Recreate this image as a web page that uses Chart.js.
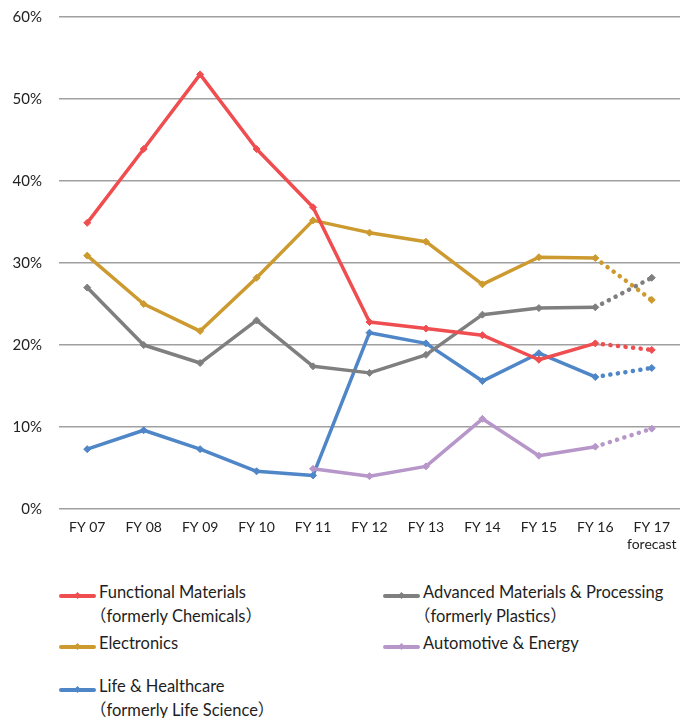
<!DOCTYPE html>
<html>
<head>
<meta charset="utf-8">
<script src="https://cdn.jsdelivr.net/npm/chart.js@4"></script>
<style>
  body { margin: 0; background: #fff; font-family: 'Lato', 'Noto Sans CJK JP', sans-serif; }
  #wrap { position: relative; width: 680px; height: 560px; }
  #legend { position: absolute; left: 0; top: 580px; width: 680px; }
  .item { position: absolute; font-size: 16.5px; color: #1e1e1e; line-height: 24px; }
  .sw { position: absolute; left: 0; top: 14px; width: 37px; height: 4px; border-radius: 2px; }
  .dm { position: absolute; left: 16px; top: -1px; width: 5px; height: 5px; transform: rotate(45deg); }
  .tx { position: absolute; left: 40px; top: 0; white-space: nowrap; }
  .l2 { margin-left: -9px; }
</style>
</head>
<body>
<div id="wrap"><canvas id="data-chart"></canvas></div>
<div id="legend"></div>
<script>
const categories = ['FY 07', 'FY 08', 'FY 09', 'FY 10', 'FY 11', 'FY 12', 'FY 13', 'FY 14', 'FY 15', 'FY 16', ['FY 17', 'forecast']];
const yTicks = [0, 10, 20, 30, 40, 50, 60];

const functionalMaterials = [34.9, 43.9, 53.0, 43.9, 36.8, 22.8, 22.0, 21.2, 18.2, 20.2, 19.4];
const advancedMaterials = [27.0, 20.0, 17.8, 23.0, 17.4, 16.6, 18.8, 23.7, 24.5, 24.6, 28.2];
const electronics = [30.9, 25.0, 21.7, 28.2, 35.2, 33.7, 32.6, 27.4, 30.7, 30.6, 25.5];
const automotiveEnergy = [null, null, null, null, 4.9, 4.0, 5.2, 11.0, 6.5, 7.6, 9.8];
const lifeHealthcare = [7.3, 9.6, 7.3, 4.6, 4.1, 21.5, 20.2, 15.6, 19.0, 16.1, 17.2];

const seriesNames = [
    ['Functional Materials', '（formerly Chemicals）'],
    ['Advanced Materials & Processing', '（formerly Plastics）'],
    ['Electronics'],
    ['Automotive & Energy'],
    ['Life & Healthcare', '（formerly Life Science）']
];
const colors = ['#EF4D4F', '#7F7F7F', '#CC9A2E', '#B796C9', '#4E86C7'];
const seriesData = [functionalMaterials, advancedMaterials, electronics, automotiveEnergy, lifeHealthcare];

const lastIndex = categories.length - 1;

function makeDataset(i) {
    return {
        label: seriesNames[i].join(' '),
        data: seriesData[i],
        borderColor: colors[i],
        backgroundColor: colors[i],
        borderWidth: 3.5,
        borderCapStyle: 'round',
        borderJoinStyle: 'round',
        pointStyle: 'rectRot',
        pointRadius: 3.5,
        pointBorderWidth: 1,
        tension: 0,
        spanGaps: false,
        segment: {
            // forecast year is drawn dotted
            borderDash: ctx => ctx.p1DataIndex === lastIndex ? [0.1, 7.5] : undefined,
            borderWidth: ctx => ctx.p1DataIndex === lastIndex ? 4.5 : undefined
        }
    };
}

const ctx = document.getElementById('data-chart').getContext('2d');
const chart = new Chart(ctx, {
    type: 'line',
    data: {
        labels: categories,
        datasets: seriesData.map((d, i) => makeDataset(i))
    },
    options: {
        responsive: true,
        maintainAspectRatio: false,
        animation: false,
        layout: { autoPadding: false, padding: { top: 17, right: 0, left: 0, bottom: 0 } },
        plugins: {
            legend: { display: false },
            tooltip: { enabled: false }
        },
        scales: {
            x: {
                offset: true,
                grid: { display: false, drawTicks: false },
                border: { display: false },
                ticks: {
                    color: '#222',
                    font: { family: 'Lato', size: 14 },
                    padding: 10,
                    maxRotation: 0,
                    autoSkip: false
                },
                afterFit: scale => {
                    scale.height = 51;
                    scale.paddingLeft = 0;
                    scale.paddingRight = 0;
                }
            },
            y: {
                min: 0,
                max: 60,
                afterBuildTicks: scale => { scale.ticks = yTicks.map(v => ({ value: v })); },
                grid: { color: '#A0A0A0', lineWidth: 1.5, drawTicks: false },
                border: { display: false },
                ticks: {
                    color: '#222',
                    font: { family: 'Lato', size: 15 },
                    padding: 17,
                    callback: v => v + '%'
                },
                afterFit: scale => {
                    scale.width = 59;
                    scale.paddingTop = 0;
                    scale.paddingBottom = 0;
                }
            }
        }
    }
});

// legend built from the chart's datasets
const legendPos = [[59, 0], [383, 0], [59, 51], [383, 51], [59, 94]];
const legendEl = document.getElementById('legend');
chart.data.datasets.forEach((ds, i) => {
    const item = document.createElement('div');
    item.className = 'item';
    item.style.left = legendPos[i][0] + 'px';
    item.style.top = legendPos[i][1] + 'px';
    const lines = seriesNames[i].map((t, k) => k === 0 ? t : '<span class="l2">' + t + '</span>');
    item.innerHTML = '<div class="sw" style="background:' + ds.borderColor + '"><div class="dm" style="background:' + ds.borderColor + '"></div></div>' +
        '<div class="tx">' + lines.join('<br>') + '</div>';
    legendEl.appendChild(item);
});
</script>
</body>
</html>
